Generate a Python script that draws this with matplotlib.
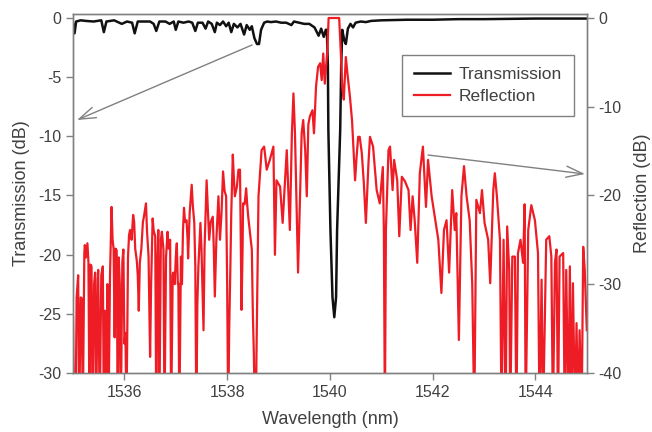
import matplotlib
matplotlib.use("Agg")
from matplotlib import pyplot as plt

plt.rcParams['font.family'] = ['Liberation Sans', 'DejaVu Sans']
plt.rcParams['axes.unicode_minus'] = False

# transmission spectrum (left axis, dB)
trans_wl = [1535.00, 1535.03, 1535.06, 1535.15, 1535.25, 1535.40, 1535.55, 1535.60, 1535.65,
            1535.80, 1535.95, 1536.05, 1536.15, 1536.20, 1536.26, 1536.40, 1536.50, 1536.57,
            1536.62, 1536.68, 1536.80, 1536.88, 1536.96, 1537.00, 1537.05, 1537.15, 1537.25,
            1537.32, 1537.38, 1537.43, 1537.52, 1537.58, 1537.63, 1537.70, 1537.76, 1537.80,
            1537.86, 1537.92, 1537.98, 1538.03, 1538.08, 1538.13, 1538.20, 1538.26, 1538.33,
            1538.38, 1538.44, 1538.48, 1538.53, 1538.58, 1538.62, 1538.66, 1538.72, 1538.78,
            1538.85, 1538.95, 1539.05, 1539.15, 1539.25, 1539.30, 1539.40, 1539.50, 1539.60,
            1539.70, 1539.78, 1539.83, 1539.88, 1539.92, 1539.94, 1539.96, 1539.97, 1540.01,
            1540.05, 1540.085, 1540.12, 1540.14, 1540.20, 1540.22, 1540.24, 1540.28, 1540.31,
            1540.35, 1540.40, 1540.45, 1540.50, 1540.60, 1540.70, 1540.80, 1541.00, 1541.50,
            1542.00, 1542.50, 1543.00, 1544.00, 1545.00]
trans_db = [-0.4, -1.3, -0.3, -0.2, -0.25, -0.3, -0.2, -1.2, -0.3,
            -0.2, -0.5, -0.3, -0.4, -1.3, -0.3, -0.3, -0.3, -0.5,
            -1.1, -0.3, -0.3, -0.5, -0.3, -1.0, -0.3, -0.4, -0.3,
            -0.4, -1.1, -0.4, -0.4, -0.9, -0.3, -0.5, -1.2, -0.4,
            -0.6, -0.3, -0.7, -0.4, -1.2, -0.5, -0.8, -0.5, -1.4,
            -0.6, -1.0, -0.7, -1.7, -2.2, -2.2, -1.0, -0.4, -0.3,
            -0.35, -0.3, -0.4, -0.4, -0.6, -0.3, -0.4, -0.5, -0.5,
            -0.8, -1.5, -0.9, -1.6, -1.0, -1.0, -4.0, -9.5, -17.9,
            -23.6, -25.3, -23.6, -17.9, -9.5, -4.0, -1.0, -1.9, -2.2,
            -0.9, -0.5, -0.8, -0.4, -0.3, -0.35, -0.25, -0.2, -0.15,
            -0.15, -0.1, -0.1, -0.05, -0.05]

# reflection spectrum (right axis, dB); values below -40 run off the axis
refl_wl = [1535.00, 1535.02, 1535.05, 1535.07, 1535.10, 1535.12, 1535.15, 1535.17, 1535.19,
           1535.22, 1535.23, 1535.25, 1535.28, 1535.30, 1535.32, 1535.34, 1535.36, 1535.38,
           1535.41, 1535.43, 1535.45, 1535.48, 1535.49, 1535.52, 1535.55, 1535.58, 1535.60,
           1535.62, 1535.65, 1535.67, 1535.69, 1535.72, 1535.75, 1535.77, 1535.79, 1535.81,
           1535.83, 1535.85, 1535.87, 1535.89, 1535.91, 1535.93, 1535.96, 1535.98, 1536.00,
           1536.02, 1536.04, 1536.07, 1536.09, 1536.11, 1536.14, 1536.17, 1536.19, 1536.21,
           1536.24, 1536.26, 1536.28, 1536.30, 1536.33, 1536.36, 1536.38, 1536.42, 1536.44,
           1536.47, 1536.50, 1536.52, 1536.55, 1536.57, 1536.60, 1536.62, 1536.64, 1536.66,
           1536.68, 1536.71, 1536.73, 1536.76, 1536.78, 1536.81, 1536.84, 1536.86, 1536.89,
           1536.91, 1536.94, 1536.95, 1536.98, 1537.00, 1537.02, 1537.04, 1537.05, 1537.07,
           1537.10, 1537.12, 1537.14, 1537.16, 1537.18, 1537.21, 1537.23, 1537.24, 1537.27,
           1537.31, 1537.33, 1537.36, 1537.38, 1537.40, 1537.42, 1537.44, 1537.48, 1537.50,
           1537.54, 1537.56, 1537.60, 1537.62, 1537.65, 1537.68, 1537.72, 1537.74, 1537.76,
           1537.79, 1537.83, 1537.86, 1537.89, 1537.92, 1537.95, 1537.98, 1538.00, 1538.02,
           1538.04, 1538.06, 1538.08, 1538.11, 1538.13, 1538.15, 1538.19, 1538.22, 1538.25,
           1538.28, 1538.30, 1538.31, 1538.34, 1538.37, 1538.39, 1538.41, 1538.44, 1538.48,
           1538.50, 1538.52, 1538.54, 1538.56, 1538.57, 1538.61, 1538.67, 1538.72, 1538.77,
           1538.83, 1538.90, 1538.93, 1538.96, 1539.03, 1539.08, 1539.16, 1539.22, 1539.26,
           1539.29, 1539.32, 1539.38, 1539.45, 1539.48, 1539.52, 1539.55, 1539.58, 1539.61,
           1539.66, 1539.69, 1539.73, 1539.77, 1539.81, 1539.84, 1539.87, 1539.90, 1539.95,
           1539.975, 1540.18, 1540.21, 1540.24, 1540.27, 1540.31, 1540.34, 1540.39, 1540.43,
           1540.49, 1540.52, 1540.55, 1540.58, 1540.62, 1540.66, 1540.70, 1540.75, 1540.78,
           1540.84, 1540.91, 1540.97, 1541.03, 1541.05, 1541.07, 1541.09, 1541.14, 1541.17,
           1541.22, 1541.25, 1541.31, 1541.35, 1541.40, 1541.46, 1541.53, 1541.57, 1541.61,
           1541.65, 1541.70, 1541.75, 1541.81, 1541.87, 1541.91, 1541.98, 1542.04, 1542.11,
           1542.17, 1542.22, 1542.27, 1542.32, 1542.38, 1542.43, 1542.46, 1542.51, 1542.56,
           1542.61, 1542.66, 1542.72, 1542.77, 1542.81, 1542.85, 1542.92, 1542.96, 1543.01,
           1543.08, 1543.12, 1543.18, 1543.21, 1543.25, 1543.31, 1543.34, 1543.38, 1543.42,
           1543.45, 1543.49, 1543.51, 1543.55, 1543.60, 1543.63, 1543.66, 1543.71, 1543.76,
           1543.79, 1543.81, 1543.86, 1543.92, 1543.99, 1544.05, 1544.08, 1544.12, 1544.15,
           1544.21, 1544.27, 1544.31, 1544.34, 1544.38, 1544.41, 1544.44, 1544.47, 1544.54,
           1544.57, 1544.60, 1544.64, 1544.67, 1544.70, 1544.73, 1544.77, 1544.80, 1544.83,
           1544.86, 1544.90, 1544.93, 1544.96, 1545.00]
refl_db = [-33.7, -45, -45, -31.5, -29.0, -45, -31.5, -31.6, -45,
           -26.5, -25.6, -27.0, -25.4, -27.5, -45, -27.8, -28.0, -45,
           -30.0, -28.7, -45, -29.5, -28.4, -45, -29.0, -28.0, -45,
           -33.0, -45, -30.0, -45, -29.0, -21.3, -25.0, -26.0, -36.0,
           -26.0, -26.2, -45, -27.0, -29.9, -45, -27.5, -26.1, -36.7,
           -35.5, -45, -27.0, -24.5, -23.9, -25.0, -22.2, -23.0, -26.0,
           -27.3, -29.0, -33.0, -27.6, -26.0, -23.0, -22.4, -20.9, -24.0,
           -26.9, -38.2, -30.0, -22.6, -24.0, -24.6, -45, -28.0, -23.9,
           -45, -25.0, -24.1, -26.1, -45, -27.0, -24.1, -26.0, -25.0,
           -45, -29.0, -28.7, -30.0, -27.0, -25.4, -30.0, -29.9, -45,
           -26.9, -30.0, -24.0, -21.4, -23.0, -22.8, -25.0, -27.1, -22.0,
           -18.8, -21.0, -23.1, -28.0, -45, -32.2, -28.0, -23.1, -26.0,
           -35.2, -26.0, -18.3, -21.0, -25.0, -23.0, -22.4, -26.0, -31.4,
           -25.0, -20.1, -25.0, -22.0, -17.3, -19.5, -20.1, -30.0, -45,
           -35.0, -28.9, -22.0, -15.4, -18.0, -20.1, -19.0, -17.1, -17.1,
           -32.9, -26.0, -20.9, -21.0, -19.2, -21.0, -22.4, -24.0, -26.1,
           -33.3, -38.0, -45, -45, -38.2, -20.1, -14.9, -14.5, -17.1,
           -16.0, -14.5, -26.7, -18.3, -19.0, -23.1, -14.9, -23.9, -13.0,
           -8.5, -13.0, -28.7, -13.0, -11.5, -15.0, -20.1, -12.0, -11.1,
           -10.4, -13.0, -7.7, -5.5, -5.1, -7.0, -4.0, -7.4, -3.6,
           0.0, 0.0, -3.6, -7.7, -9.2, -4.4, -6.2, -8.9, -11.5,
           -18.3, -15.6, -13.4, -13.4, -15.2, -18.6, -23.1, -16.4, -13.4,
           -14.5, -19.4, -20.9, -16.8, -23.9, -45, -23.9, -14.9, -14.5,
           -19.4, -16.0, -18.3, -24.6, -17.9, -18.4, -19.4, -23.9, -20.1,
           -22.8, -27.6, -17.5, -14.5, -21.3, -16.0, -20.1, -22.4, -25.0,
           -31.0, -23.9, -22.8, -28.7, -19.4, -23.9, -22.0, -36.3, -20.1,
           -16.7, -20.1, -22.8, -29.9, -45, -20.5, -22.0, -19.4, -23.1,
           -25.0, -29.9, -19.4, -17.5, -20.1, -25.0, -45, -25.0, -45,
           -23.5, -28.4, -45, -26.9, -26.9, -45, -26.5, -25.0, -27.6,
           -21.0, -45, -23.9, -21.1, -22.8, -26.5, -45, -29.5, -45,
           -25.0, -24.6, -26.9, -45, -27.6, -26.1, -45, -26.9, -26.5,
           -45, -28.4, -45, -28.0, -45, -29.9, -45, -34.4, -45,
           -35.2, -45, -25.8, -28.4, -35.2]

fig, ax = plt.subplots(figsize=(6.52, 4.32), dpi=100)
fig.subplots_adjust(left=0.112, right=0.900, bottom=0.137, top=0.968)
ax2 = ax.twinx()

gray = '#808080'
txt = '#404040'

ax.plot(trans_wl, trans_db, color='#111111', lw=1.8, label='Transmission')
ax2.plot(refl_wl, refl_db, color='#ee1c25', lw=1.6, label='Reflection')

ax.set_xlim(1535, 1545)
ax.set_ylim(-30, 0.35)
ax2.set_ylim(-40, 0.47)
ax.set_xticks([1536, 1538, 1540, 1542, 1544])
ax.set_yticks([0, -5, -10, -15, -20, -25, -30])
ax2.set_yticks([0, -10, -20, -30, -40])

for a in (ax, ax2):
    for s in a.spines.values():
        s.set_color(gray)
        s.set_linewidth(1.0)
    a.tick_params(colors=gray, labelcolor=txt, labelsize=11.5, length=5, width=1)

ax.set_xlabel('Wavelength (nm)', fontsize=13, color=txt, labelpad=8)
ax.set_ylabel('Transmission (dB)', fontsize=13, color=txt, labelpad=6)
ax2.set_ylabel('Reflection (dB)', fontsize=13, color=txt, labelpad=9)

h1, l1 = ax.get_legend_handles_labels()
h2, l2 = ax2.get_legend_handles_labels()
leg = ax2.legend(h1 + h2, l1 + l2, loc='upper left', bbox_to_anchor=(0.64, 0.885),
                 borderaxespad=0, fontsize=12.5, fancybox=False, handlelength=2.1,
                 handletextpad=0.45, labelspacing=0.35, borderpad=0.7, framealpha=1)
leg.get_frame().set_edgecolor(gray)
leg.get_frame().set_linewidth(1.0)
for t in leg.get_texts():
    t.set_color(txt)

arrow = dict(arrowstyle='->,head_length=1.2,head_width=0.4', color=gray, lw=1.0,
             shrinkA=0, shrinkB=0)
ax2.annotate('', xy=(77, 312), xytext=(252, 387), xycoords='figure pixels',
             textcoords='figure pixels', arrowprops=arrow)
ax2.annotate('', xy=(585, 258), xytext=(428, 277), xycoords='figure pixels',
             textcoords='figure pixels', arrowprops=arrow)

fig.savefig('out.png')
